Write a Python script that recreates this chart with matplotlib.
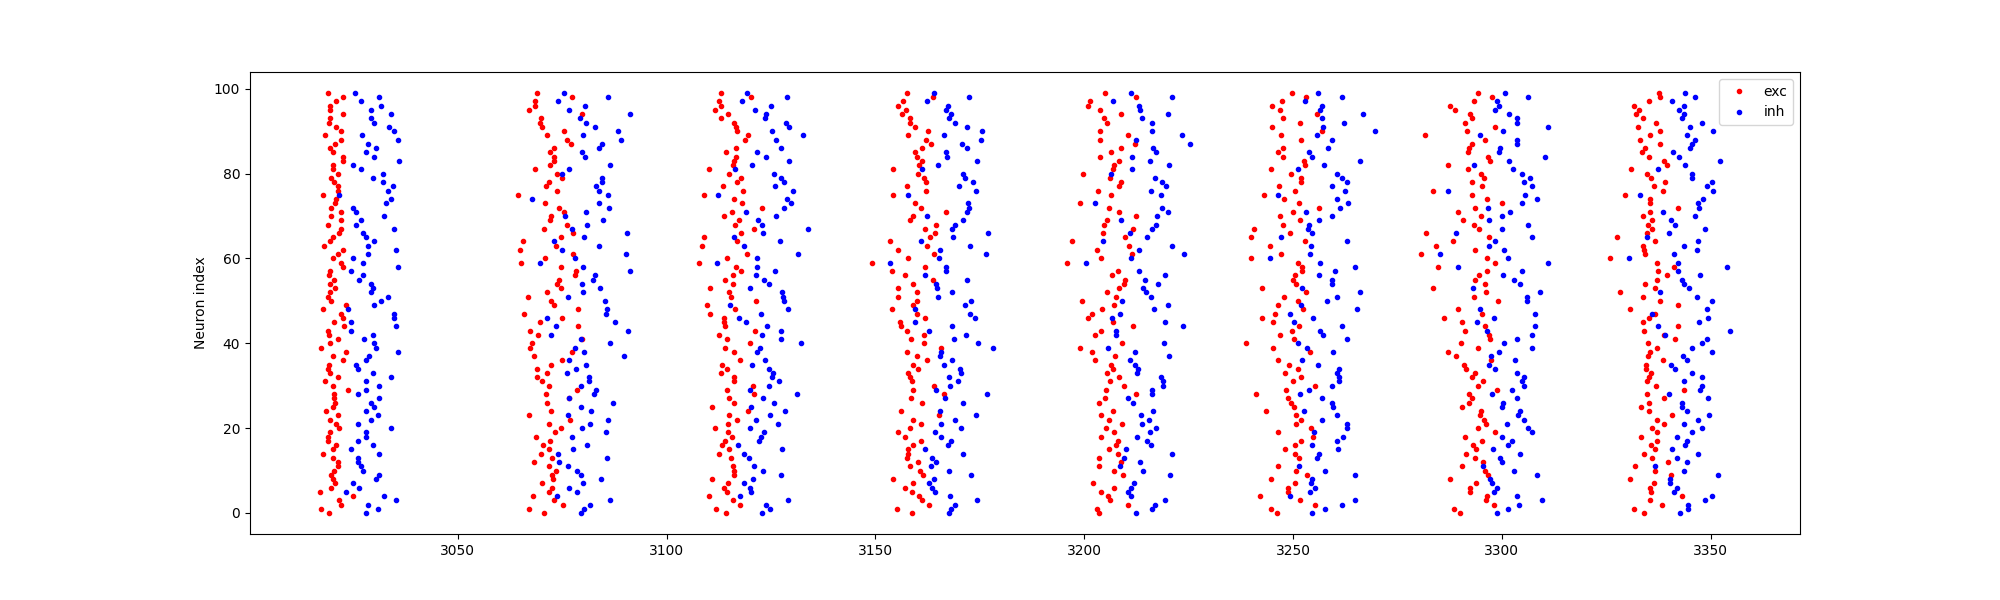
import numpy as np
import matplotlib
matplotlib.use("Agg")
import matplotlib.pyplot as plt

# reference time (ms) of each population burst; spike times below are offsets from it
burst_t0 = [3012.2, 3061.2, 3105.5, 3147.3, 3192.8, 3237.0, 3278.9, 3323.2]

# spike offsets (ms), listed from the top neuron (99) downwards
exc_dt = [
    [6.8, 10.2, 8.7, 7.3, 7.3, 10.2, 7.3, 7.0, 8.7, 9.7, 6.1, 9.9, 8.5, 7.3, 8.0, 10.2, 10.2, 8.0, 8.0, 9.0,
     7.5, 8.2, 9.2, 9.0, 5.6, 8.7, 8.5, 7.5, 9.9, 7.5, 9.9, 6.8, 9.7, 9.4, 8.0, 7.3, 5.8, 10.4, 9.0, 8.0,
     9.7, 10.4, 7.3, 7.0, 8.2, 7.3, 8.5, 7.3, 6.8, 7.5, 10.9, 5.6, 9.9, 10.4, 8.2, 10.6, 6.8, 7.0, 9.2, 7.3,
     5.1, 10.9, 8.0, 10.2, 7.0, 6.8, 7.3, 9.0, 6.1, 8.0, 11.6, 8.2, 8.2, 8.5, 8.0, 6.3, 9.2, 7.3, 8.7, 9.4,
     7.3, 6.6, 6.8, 8.7, 8.0, 5.6, 8.0, 9.2, 9.0, 8.2, 7.5, 8.0, 8.5, 7.5, 4.9, 12.8, 9.4, 9.7, 5.1, 7.0],
    [7.8, 16.2, 7.3, 7.3, 5.8, 18.6, 8.7, 8.5, 9.0, 14.2, 10.2, 15.0, 15.9, 11.8, 10.9, 11.8, 11.8, 10.9, 7.3, 12.6,
     13.8, 10.6, 9.9, 12.6, 3.2, 9.7, 13.0, 14.2, 11.1, 10.9, 15.0, 9.4, 16.4, 13.5, 4.4, 12.3, 3.7, 16.4, 9.7, 3.9,
     13.5, 17.1, 16.9, 13.0, 12.6, 13.5, 10.2, 5.6, 11.1, 11.8, 17.6, 4.6, 13.8, 8.5, 17.6, 6.1, 8.0, 18.6, 6.6, 6.1,
     16.2, 7.0, 13.8, 11.1, 7.8, 10.2, 7.8, 9.0, 10.6, 17.4, 9.9, 15.4, 10.2, 11.1, 5.8, 15.7, 10.6, 13.5, 12.1, 7.5,
     10.9, 9.2, 10.6, 8.7, 11.4, 7.0, 10.6, 12.3, 11.4, 11.6, 9.0, 11.4, 10.6, 6.8, 11.8, 14.0, 5.8, 9.4],
    [7.5, 14.7, 7.0, 7.5, 6.1, 9.2, 7.5, 10.6, 11.1, 11.4, 14.0, 13.3, 11.1, 8.7, 11.1, 10.6, 10.4, 4.6, 9.4, 12.3,
     11.4, 8.0, 12.8, 3.4, 10.6, 12.6, 17.4, 10.2, 8.2, 11.8, 10.9, 15.4, 12.3, 3.4, 11.4, 3.0, 13.8, 9.0, 2.2, 11.1,
     12.3, 10.4, 8.5, 10.4, 4.9, 9.4, 9.9, 15.9, 4.2, 10.9, 4.9, 8.2, 8.2, 8.5, 15.7, 7.0, 9.0, 14.5, 8.5, 10.6,
     12.1, 7.8, 9.0, 7.5, 10.6, 10.6, 15.2, 9.0, 15.4, 9.4, 10.6, 5.4, 14.0, 9.4, 11.4, 9.2, 6.1, 9.2, 10.2, 8.5,
     7.8, 9.4, 7.0, 9.9, 10.4, 10.6, 10.6, 5.4, 9.2, 8.2, 9.0, 4.6, 10.4, 12.1, 6.3, 8.7],
    [10.2, 16.4, 9.4, 8.0, 9.9, 9.0, 10.9, 10.9, 12.1, 15.2, 10.6, 14.7, 15.9, 13.8, 12.1, 12.6, 13.8, 13.0, 7.0, 12.8,
     14.2, 14.7, 10.2, 14.7, 6.8, 12.1, 13.5, 19.5, 11.6, 10.9, 17.1, 14.5, 16.9, 15.7, 6.1, 15.0, 8.0, 16.6, 10.6, 1.8,
     14.5, 6.6, 9.7, 16.4, 11.6, 8.2, 12.6, 8.0, 12.6, 11.6, 6.6, 12.6, 14.5, 8.5, 8.7, 10.2, 14.2, 11.1, 14.2, 18.3,
     10.2, 12.6, 15.0, 11.8, 12.8, 10.4, 10.9, 11.4, 16.6, 11.6, 19.0, 11.1, 13.8, 8.7, 17.8, 11.8, 13.5, 10.9, 8.2, 9.7,
     13.5, 11.6, 10.6, 10.4, 10.2, 12.8, 10.9, 13.3, 14.0, 6.8, 11.6, 9.7, 11.4, 13.0, 13.8, 15.4, 7.8, 11.4],
    [12.1, 19.5, 8.5, 8.2, 10.9, 15.9, 11.8, 12.6, 10.9, 17.6, 10.9, 19.3, 15.9, 13.5, 10.9, 15.4, 14.2, 14.0, 7.0, 13.3,
     15.9, 15.4, 10.4, 13.5, 6.1, 13.0, 15.4, 19.5, 12.6, 11.8, 18.8, 11.6, 16.9, 4.2, 17.8, 10.2, 18.6, 11.1, 3.0, 15.2,
     13.8, 16.9, 16.6, 15.4, 12.6, 14.7, 6.6, 14.2, 11.4, 9.0, 8.2, 14.0, 18.8, 11.1, 9.7, 16.2, 6.1, 9.0, 14.5, 9.7,
     13.5, 14.0, 12.6, 15.4, 13.3, 16.6, 12.3, 19.5, 12.1, 10.6, 14.0, 11.1, 13.0, 16.2, 12.3, 14.2, 11.1, 15.2, 14.7, 13.0,
     15.2, 10.6, 15.9, 10.6, 14.2, 16.4, 9.2, 14.2, 11.1, 12.8, 13.3, 17.6, 10.2, 10.6],
    [12.8, 16.2, 10.4, 8.0, 9.9, 18.6, 10.6, 14.7, 8.0, 19.8, 10.2, 15.0, 10.6, 9.4, 10.6, 15.7, 15.9, 7.8, 12.6, 15.0,
     15.0, 9.7, 13.5, 6.1, 10.9, 14.5, 19.3, 13.0, 9.9, 14.7, 10.6, 3.7, 12.3, 3.0, 15.9, 7.5, 10.2, 3.0, 14.2, 15.2,
     15.2, 13.5, 13.0, 13.8, 5.6, 16.2, 10.9, 14.2, 9.4, 15.4, 8.7, 5.6, 8.2, 14.5, 12.8, 9.9, 13.3, 1.8, 8.2, 17.1,
     9.4, 12.1, 14.2, 11.1, 15.0, 13.0, 18.3, 11.4, 4.2, 11.8, 12.6, 13.3, 6.6, 13.8, 15.0, 13.8, 17.4, 9.4, 17.8, 15.0,
     13.5, 11.1, 13.5, 14.5, 9.4, 13.8, 16.4, 7.8, 13.5, 11.8, 11.8, 5.1, 14.7, 18.3, 7.8, 9.2],
    [15.4, 18.8, 14.5, 8.7, 9.9, 13.5, 14.0, 12.3, 19.5, 12.8, 2.7, 17.1, 14.0, 13.3, 13.0, 17.8, 18.3, 8.2, 13.0, 16.2,
     16.9, 14.0, 16.4, 4.6, 14.0, 17.6, 21.0, 14.7, 10.6, 16.2, 11.8, 14.5, 15.7, 3.0, 18.1, 9.4, 5.4, 14.7, 1.8, 17.6,
     19.5, 5.8, 17.6, 15.7, 14.7, 17.1, 4.6, 17.4, 14.5, 20.2, 10.6, 16.4, 7.3, 11.6, 17.1, 12.3, 18.1, 18.3, 11.4, 15.4,
     8.2, 10.2, 18.6, 12.1, 12.6, 14.7, 14.0, 16.6, 15.4, 19.8, 13.3, 14.0, 13.3, 11.6, 16.2, 15.9, 16.9, 17.4, 15.4, 19.5,
     12.3, 16.4, 14.2, 15.0, 12.6, 14.7, 16.6, 11.6, 17.1, 17.8, 8.7, 15.0, 13.5, 13.5, 17.6, 17.4, 19.3, 9.7, 11.1],
    [14.5, 14.7, 12.1, 8.5, 9.7, 9.0, 10.6, 13.8, 9.4, 14.7, 12.3, 9.9, 14.7, 11.1, 10.4, 12.1, 15.7, 16.4, 7.8, 11.6,
     12.6, 15.9, 13.3, 15.4, 6.3, 12.3, 12.3, 19.0, 12.3, 10.6, 12.8, 11.8, 12.8, 11.6, 4.4, 13.5, 10.6, 10.9, 11.1, 2.7,
     14.0, 18.1, 14.2, 16.4, 14.0, 11.1, 13.5, 5.1, 10.6, 14.7, 19.0, 7.5, 13.5, 12.1, 10.6, 19.0, 10.9, 15.7, 18.3, 11.8,
     14.0, 12.3, 11.8, 15.4, 11.4, 11.4, 12.6, 12.1, 11.6, 13.8, 20.5, 11.6, 15.7, 12.1, 10.2, 12.1, 17.6, 14.0, 15.7, 12.8,
     14.0, 10.2, 14.0, 12.6, 13.5, 10.9, 12.8, 16.6, 8.7, 13.5, 17.4, 7.5, 13.3, 12.3, 12.6, 20.0, 12.3, 15.2, 8.5, 10.9],
]

inh_dt = [
    [13.2, 19.0, 14.5, 19.3, 17.1, 21.9, 16.9, 17.8, 21.4, 22.6, 14.9, 23.4, 16.2, 18.3, 15.7, 17.8, 23.6, 12.6, 14.5, 19.8,
     17.4, 19.8, 22.2, 21.0, 9.3, 21.7, 20.5, 12.8, 13.5, 20.2, 14.7, 13.3, 22.6, 15.0, 15.7, 17.8, 16.2, 23.1, 16.2, 12.6,
     15.0, 23.4, 12.3, 15.2, 14.2, 16.9, 17.4, 17.1, 21.0, 19.5, 17.8, 11.4, 22.6, 22.4, 12.1, 22.9, 12.1, 17.4, 15.4, 17.8,
     18.1, 23.4, 16.6, 15.9, 13.3, 14.0, 17.4, 21.9, 15.7, 19.0, 15.7, 14.0, 18.8, 16.9, 17.8, 15.9, 18.6, 17.1, 13.8, 21.7,
     15.9, 15.7, 14.0, 17.4, 12.1, 18.8, 14.0, 13.8, 14.5, 15.2, 19.0, 18.1, 12.6, 14.2, 10.9, 20.2, 22.9, 16.2, 18.6, 15.9],
    [14.2, 24.8, 12.8, 19.3, 15.4, 30.1, 18.1, 19.5, 21.7, 27.2, 18.8, 27.9, 23.4, 22.6, 18.6, 19.3, 25.3, 15.4, 13.8, 23.4,
     23.4, 21.9, 22.6, 24.8, 6.6, 22.6, 25.0, 19.5, 14.5, 23.6, 19.8, 16.2, 29.4, 19.0, 11.8, 22.6, 13.8, 29.1, 16.9, 8.5,
     18.8, 30.1, 21.7, 21.2, 18.6, 22.9, 18.8, 15.2, 24.1, 24.6, 24.3, 10.2, 26.5, 12.3, 29.6, 11.1, 18.3, 25.3, 16.9, 19.0,
     28.6, 15.4, 19.5, 17.1, 15.0, 20.2, 20.2, 18.3, 21.9, 21.4, 15.4, 26.0, 18.3, 20.7, 15.2, 24.8, 20.5, 18.6, 24.3, 16.2,
     19.8, 16.4, 12.8, 24.6, 13.0, 15.2, 17.4, 18.3, 23.1, 18.8, 15.4, 17.4, 12.6, 25.3, 20.5, 19.0, 18.3],
    [13.8, 23.4, 12.6, 19.5, 15.7, 18.3, 18.1, 23.1, 23.8, 19.8, 27.2, 20.7, 21.9, 16.2, 18.3, 23.8, 15.0, 10.9, 20.2, 21.9,
     22.6, 20.5, 24.8, 6.8, 23.4, 24.3, 22.6, 13.5, 20.7, 16.4, 17.4, 28.4, 17.6, 10.6, 21.7, 13.0, 26.0, 16.2, 6.6, 16.2,
     20.5, 15.9, 17.8, 19.0, 14.5, 22.2, 22.4, 22.6, 9.7, 23.6, 17.1, 11.8, 13.5, 18.6, 21.9, 17.4, 21.9, 26.7, 16.9, 16.2,
     18.1, 15.0, 19.0, 20.0, 19.8, 21.4, 19.0, 14.5, 25.8, 17.6, 20.2, 14.7, 22.9, 19.3, 15.9, 21.2, 14.5, 17.8, 17.1, 16.6,
     11.6, 22.2, 13.0, 14.2, 15.4, 17.6, 21.9, 15.2, 13.0, 14.5, 14.7, 12.1, 23.6, 18.3, 19.3, 17.4],
    [16.6, 25.0, 15.0, 20.0, 19.5, 20.7, 20.2, 21.7, 24.6, 28.2, 19.0, 27.9, 23.4, 24.6, 19.5, 19.8, 27.0, 17.6, 13.8, 23.6,
     24.1, 26.0, 22.6, 26.7, 10.4, 24.8, 25.0, 24.6, 15.0, 23.6, 21.7, 21.0, 29.6, 21.2, 13.5, 25.3, 18.1, 29.1, 17.8, 6.1,
     19.5, 19.5, 14.5, 24.6, 17.1, 17.4, 21.0, 17.6, 25.5, 24.1, 12.1, 25.3, 26.5, 12.1, 21.0, 15.4, 24.3, 21.4, 27.2, 30.8,
     18.3, 18.1, 21.0, 19.0, 22.9, 23.1, 20.2, 22.4, 20.5, 17.1, 29.4, 19.3, 23.6, 18.1, 26.7, 21.7, 18.3, 23.1, 16.9, 18.3,
     20.7, 20.0, 14.5, 23.6, 16.2, 17.1, 15.9, 20.2, 25.5, 16.6, 15.4, 16.2, 16.9, 20.5, 27.0, 21.7, 20.7, 20.2],
    [18.3, 28.2, 14.0, 20.2, 20.5, 27.2, 21.0, 23.4, 23.4, 30.6, 19.5, 32.5, 23.6, 24.3, 18.6, 22.9, 27.4, 18.6, 13.5, 24.1,
     25.8, 26.7, 23.1, 25.5, 9.7, 25.8, 27.2, 24.6, 15.9, 24.3, 23.4, 18.1, 22.2, 11.6, 28.2, 20.2, 31.0, 18.3, 7.5, 20.2,
     26.5, 21.7, 24.8, 21.2, 21.9, 23.1, 16.2, 27.2, 23.8, 15.7, 13.8, 26.5, 30.8, 14.7, 14.7, 26.2, 12.8, 19.3, 27.4, 18.1,
     19.3, 20.0, 19.8, 25.5, 26.0, 26.0, 23.4, 23.4, 17.6, 18.8, 23.6, 20.7, 22.6, 21.0, 24.3, 22.9, 19.8, 22.2, 23.1, 17.1,
     28.2, 16.6, 20.5, 15.7, 21.2, 27.7, 19.0, 18.3, 17.6, 18.3, 26.5, 24.1, 23.4, 19.5],
    [19.0, 24.8, 15.9, 20.0, 19.5, 29.8, 19.8, 25.3, 20.2, 32.7, 18.8, 22.4, 21.4, 16.9, 17.6, 28.9, 20.5, 14.2, 23.4, 24.6,
     26.0, 22.4, 25.5, 9.4, 23.6, 26.2, 24.3, 16.2, 22.4, 19.3, 16.9, 16.6, 17.6, 10.2, 26.0, 17.4, 17.1, 7.5, 19.5, 27.9,
     23.1, 19.3, 22.2, 22.2, 15.2, 29.1, 23.4, 21.2, 15.0, 28.2, 12.3, 17.8, 13.3, 24.6, 19.5, 20.2, 26.0, 14.2, 16.4, 22.6,
     15.2, 19.0, 24.1, 23.6, 24.1, 24.1, 22.2, 16.9, 14.7, 20.0, 22.2, 22.6, 15.7, 23.6, 19.8, 26.0, 26.0, 18.1, 25.0, 23.4,
     17.6, 23.8, 19.3, 18.8, 14.5, 20.7, 27.7, 17.6, 17.4, 18.3, 17.1, 12.3, 27.7, 24.6, 20.7, 17.6],
    [21.9, 27.4, 20.0, 20.5, 19.5, 22.9, 24.8, 24.8, 32.2, 21.4, 15.9, 24.6, 24.8, 20.7, 20.5, 31.3, 22.9, 14.5, 23.8, 25.8,
     27.9, 26.5, 28.4, 8.2, 26.7, 29.4, 26.0, 17.8, 23.1, 21.0, 18.1, 27.4, 21.0, 10.2, 28.4, 19.5, 18.1, 21.7, 6.3, 22.6,
     32.2, 10.6, 25.8, 21.4, 24.1, 25.5, 14.2, 30.3, 27.0, 27.0, 15.9, 28.9, 19.3, 15.2, 29.1, 17.6, 28.2, 24.8, 21.7, 28.4,
     20.5, 18.6, 24.3, 18.1, 19.5, 24.6, 26.5, 26.0, 26.5, 23.4, 18.8, 24.6, 21.4, 21.2, 25.5, 25.0, 26.5, 22.4, 27.4, 28.2,
     21.2, 23.4, 22.6, 19.0, 25.5, 20.7, 21.0, 16.6, 24.1, 29.4, 18.3, 18.8, 20.0, 19.3, 24.8, 30.6, 25.3, 22.6, 20.0],
    [20.7, 23.1, 17.6, 20.5, 19.3, 20.5, 20.0, 24.6, 21.9, 27.4, 21.0, 23.1, 22.2, 21.9, 17.8, 19.3, 28.9, 20.7, 14.2, 22.4,
     22.2, 27.0, 26.0, 27.4, 9.9, 25.0, 23.8, 24.1, 15.4, 23.1, 17.4, 18.3, 25.5, 16.9, 11.6, 23.8, 20.5, 23.6, 18.1, 7.3,
     19.0, 30.6, 19.0, 24.3, 19.8, 20.5, 21.7, 14.7, 23.6, 27.2, 25.8, 12.8, 26.2, 24.1, 14.2, 31.3, 15.9, 25.8, 24.8, 22.2,
     27.0, 20.2, 21.2, 17.4, 18.3, 22.4, 24.6, 20.5, 24.8, 24.3, 16.9, 26.2, 20.0, 19.8, 21.2, 26.5, 23.8, 20.5, 24.8, 22.4,
     18.8, 21.0, 20.7, 17.6, 23.8, 18.6, 21.0, 13.5, 20.5, 28.6, 17.1, 17.1, 18.6, 18.1, 27.2, 25.5, 21.4, 21.4, 19.5],
]

top_neuron = 99


def collect(dt_lists):
    t_all, i_all = [], []
    for t0, dts in zip(burst_t0, dt_lists):
        # spikes were read top to bottom; spread them over neurons 99..0
        idx = np.round(np.linspace(top_neuron, 0, len(dts)))
        t_all.append(t0 + np.array(dts))
        i_all.append(idx)
    return np.concatenate(t_all), np.concatenate(i_all)


exc_t, exc_i = collect(exc_dt)
inh_t, inh_i = collect(inh_dt)

plt.figure(figsize=(20, 6), dpi=100)
plt.plot(exc_t, exc_i, 'r.', label='exc')
plt.plot(inh_t, inh_i, 'b.', label='inh')
plt.ylabel("Neuron index")
plt.legend(loc='upper right')
plt.savefig("out.png")
